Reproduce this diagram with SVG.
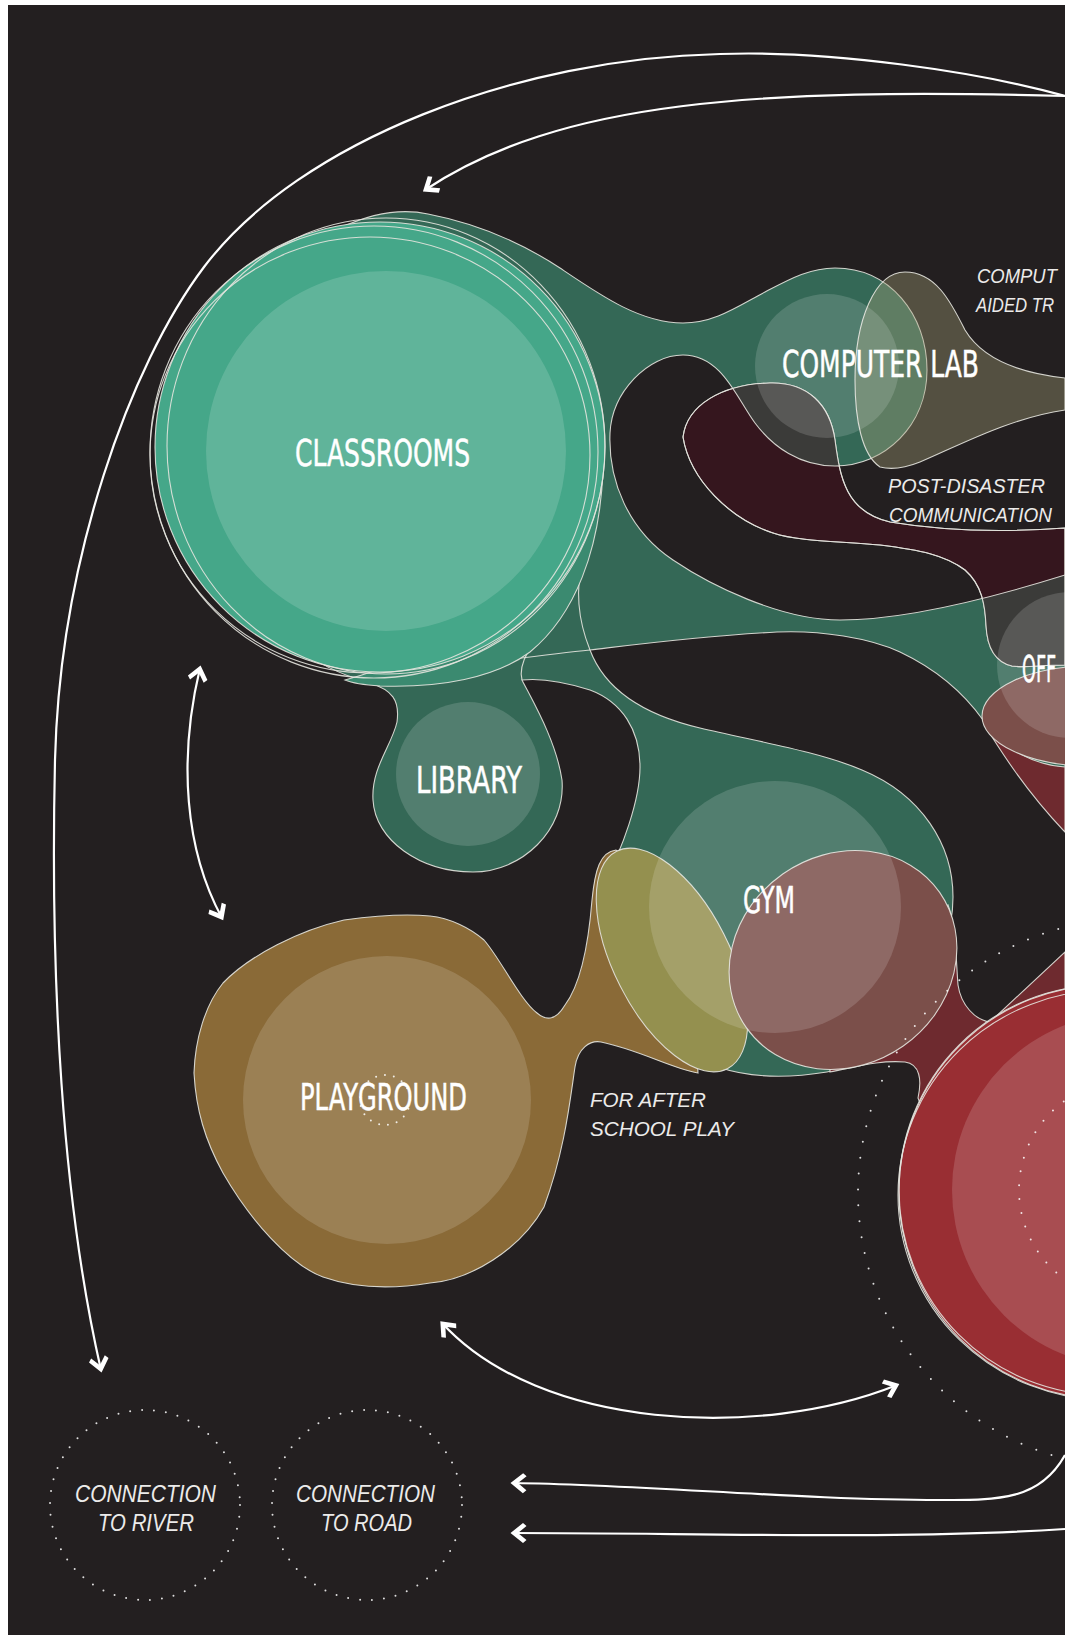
<svg xmlns="http://www.w3.org/2000/svg" width="1065" height="1637" viewBox="0 0 1065 1637">
<defs>
<style>
.ol{stroke:#e4e4de;stroke-width:1.1;stroke-opacity:.9}
.ln{fill:none;stroke:#e4e4de;stroke-width:1.1;stroke-opacity:.9}
.hi{fill:#fff;fill-opacity:.15}
.lab{font-family:"Liberation Sans Narrow","DejaVu Sans Condensed","Liberation Sans",sans-serif;font-size:38px;fill:#fff;stroke:#fff;stroke-width:.5}
.note{font-family:"Liberation Sans","DejaVu Sans",sans-serif;font-style:italic;font-size:21px;fill:#ecebea}
.cn{font-size:23px}
.con{fill:none;stroke:#fff;stroke-width:2.2}
.dot{fill:none;stroke:#fff;stroke-opacity:.85;stroke-width:2;stroke-linecap:round}
</style>
<marker id="ah" viewBox="-15 -11 19 22" markerWidth="19" markerHeight="22" refX="0" refY="0" orient="auto-start-reverse" markerUnits="userSpaceOnUse">
<path d="M2.5,0 L-10,-10 L-13.5,-7 L-5,0 L-13.5,7 L-10,10 Z" fill="#fff"/>
</marker>
<path id="N" d="M340,228 C370,214 400,208 428,214 C480,224 525,245 560,268 C600,295 640,323 683,323 C715,323 738,306 765,292 C790,279 810,268 835,268 C890,268 927,315 927,370 C927,425 885,466 835,466 C800,466 773,447 755,423 C737,399 722,355 683,355 C648,355 612,392 610,433 C608,480 628,530 673,560 C710,585 780,620 840,620 C905,620 985,600 1065,575 L1065,800 C1030,770 1000,740 983,720 C963,692 938,670 900,652 C870,638 820,630 777,632 C700,636 640,644 590,650 C605,690 645,715 700,728 C760,742 820,752 862,770 C922,795 953,845 953,897 C953,965 900,1060 827,1072 C790,1078 750,1078 718,1067 L640,960 L605,880 C622,850 640,800 640,767 C640,730 622,702 590,690 C565,682 540,678 522,680 C532,700 556,740 562,780 C566,830 522,872 473,872 C420,872 375,840 373,800 C371,768 392,745 397,722 C400,700 392,690 370,683 C345,676 310,662 290,640 Z"/>
<path id="M" d="M683,437 C687,405 722,384 770,383 C808,382 830,405 835,440 C840,478 846,512 890,522 C950,532 1010,532 1065,528 L1065,665 C1040,665 1025,668 1012,666 C995,662 987,648 986,625 C985,605 982,585 965,570 C945,555 920,550 880,545 C840,541 800,542 773,533 C730,519 690,480 683,437 Z"/>
<clipPath id="cM"><use href="#M"/></clipPath>
</defs>
<rect width="1065" height="1637" fill="#fff"/>
<rect x="8" y="5" width="1057" height="1630" fill="#231f20"/>

<g id="network">
<use href="#N" fill="#346856" class="ol"/>
<path class="ln" d="M590,650 C540,655 470,665 407,673"/>
<path class="ln" d="M590,650 C578,620 575,590 583,560"/>
<path class="ln" d="M522,680 C518,665 530,640 557,620 C570,605 580,585 583,567"/>
</g>

<g id="classrooms">
<path d="M603,470 C600,550 575,615 530,652 C495,678 440,688 380,686 C365,685 352,683 345,680 C420,660 540,600 580,520 Z" fill="#3b8a70" class="ol"/>
<circle cx="380" cy="447" r="225" fill="#45a789" class="ol"/>
<ellipse cx="374" cy="452" rx="224" ry="226" class="ln"/>
<ellipse cx="386" cy="446" rx="219" ry="228" class="ln"/>
<ellipse cx="370" cy="455" rx="220" ry="218" class="ln"/>
<circle cx="386" cy="451" r="180" class="hi"/>
<text class="lab" x="295" y="466" textLength="175" lengthAdjust="spacingAndGlyphs">CLASSROOMS</text>
</g>

<g id="computer-aided">
<path d="M880,467 C862,455 855,420 855,380 C855,320 875,272 905,272 C935,272 950,300 965,330 C980,355 1010,372 1065,378 L1065,410 C1010,418 960,445 920,462 C905,468 892,470 880,467 Z" fill="#a6a078" fill-opacity=".38" class="ol"/>
<text class="note" transform="translate(977 283) scale(0.85 1)" x="0" y="0" textLength="94" lengthAdjust="spacingAndGlyphs">COMPUT</text>
<text class="note" transform="translate(976 312) scale(0.85 1)" x="0" y="0" textLength="92" lengthAdjust="spacingAndGlyphs">AIDED TR</text>
</g>

<g id="post-disaster">
<use href="#M" fill="#35161e" class="ol"/>
<use href="#N" fill="#3b3b39" class="ol" clip-path="url(#cM)"/>
<use href="#M" fill="none" class="ol"/>
<text class="note" x="888" y="493" textLength="157" lengthAdjust="spacingAndGlyphs">POST-DISASTER</text>
<text class="note" transform="translate(889 522) scale(0.9 1)" x="0" y="0" textLength="181" lengthAdjust="spacingAndGlyphs">COMMUNICATION</text>
</g>

<g id="office">
<path d="M984,724 C1000,750 1025,790 1065,832 L1065,767 C1035,765 1005,750 984,724 Z" fill="#6e2a2f" class="ol"/>
<ellipse cx="1090" cy="716" rx="108" ry="50" fill="#7b4f4a" class="ol"/>
<circle cx="1070" cy="665" r="73" class="hi"/>
<text class="lab" transform="translate(1022 682) scale(0.6 1)" x="0" y="0" textLength="57" lengthAdjust="spacingAndGlyphs">OFF</text>
</g>

<g id="red-node">
<path d="M948,905 C956,925 956,960 958,985 C961,1005 975,1020 990,1022 L1065,952 L1065,1130 L930,1130 L918,1098 C922,1080 920,1064 905,1062 C880,1060 860,1066 830,1072 L830,1000 Z" fill="#6e2a2f" class="ol"/>
<circle cx="1106" cy="1192" r="207" fill="#992e33" class="ol"/>
<ellipse cx="1108" cy="1195" rx="210" ry="205" class="ln"/>
<circle cx="1104" cy="1190" r="205" class="ln"/>
<circle cx="1129" cy="1190" r="177" class="hi"/>
<circle cx="1129" cy="1190" r="110" class="dot" stroke-dasharray="0 14"/>
</g>

<g id="playground">
<path d="M344,920 C380,915 410,914 430,916 C450,918 470,928 484,940 C500,958 520,1000 537,1013 C545,1020 555,1022 565,1005 C580,985 588,950 592,900 C595,870 600,852 616,850 L690,900 L698,1073 C670,1068 640,1050 601,1042 C590,1040 578,1048 575,1067 C570,1100 565,1150 544,1207 C520,1250 470,1280 430,1283 C400,1288 360,1290 323,1277 C290,1265 250,1220 223,1173 C205,1140 196,1110 194,1073 C195,1040 205,1005 223,983 C250,955 300,930 344,920 Z" fill="#8a6a37" class="ol"/>
<ellipse cx="672" cy="960" rx="58" ry="122" transform="rotate(-27 672 960)" fill="#94904f" class="ol"/>
<circle cx="387" cy="1100" r="144" class="hi"/>
<circle cx="385" cy="1100" r="25" class="dot" stroke-dasharray="0 9"/>
<text class="lab" x="300" y="1110" textLength="167" lengthAdjust="spacingAndGlyphs">PLAYGROUND</text>
<text class="note" x="590" y="1107" textLength="116" lengthAdjust="spacingAndGlyphs">FOR AFTER</text>
<text class="note" x="590" y="1136" textLength="144" lengthAdjust="spacingAndGlyphs">SCHOOL PLAY</text>
</g>

<g id="gym">
<ellipse cx="843" cy="960" rx="118" ry="105" transform="rotate(-35 843 960)" fill="#7b4f4a" class="ol"/>
<circle cx="775" cy="907" r="126" class="hi"/>
<text class="lab" x="743" y="913" textLength="52" lengthAdjust="spacingAndGlyphs">GYM</text>
</g>

<g id="computer-lab">
<circle cx="827" cy="366" r="72" class="hi"/>
<text class="lab" x="782" y="377" textLength="197" lengthAdjust="spacingAndGlyphs">COMPUTER LAB</text>
</g>

<g id="library">
<circle cx="468" cy="774" r="72" class="hi"/>
<text class="lab" x="416" y="793" textLength="106" lengthAdjust="spacingAndGlyphs">LIBRARY</text>
</g>

<g id="influence">
<circle cx="1132" cy="1193" r="274" class="dot" stroke-dasharray="0 16"/>
</g>

<g id="river">
<circle cx="145" cy="1505" r="95" class="dot" stroke-dasharray="0 12"/>
<text class="note cn" x="75" y="1502" textLength="141" lengthAdjust="spacingAndGlyphs">CONNECTION</text>
<text class="note cn" x="98" y="1531" textLength="96" lengthAdjust="spacingAndGlyphs">TO RIVER</text>
</g>
<g id="road">
<circle cx="367" cy="1505" r="95" class="dot" stroke-dasharray="0 12"/>
<text class="note cn" x="296" y="1502" textLength="139" lengthAdjust="spacingAndGlyphs">CONNECTION</text>
<text class="note cn" x="321" y="1531" textLength="91" lengthAdjust="spacingAndGlyphs">TO ROAD</text>
</g>

<g id="connectors">
<path class="con" d="M1065,96 C980,72 830,50 720,54 C520,58 300,140 204,267 C130,365 60,560 55,760 C50,980 62,1200 101,1370" marker-end="url(#ah)"/>
<path class="con" d="M1065,96 C760,88 560,100 425,190" marker-end="url(#ah)"/>
<path class="con" d="M200,668 C178,760 185,850 222,918" marker-start="url(#ah)" marker-end="url(#ah)"/>
<path class="con" d="M442,1323 C540,1430 760,1440 897,1385" marker-start="url(#ah)" marker-end="url(#ah)"/>
<path class="con" d="M1065,1455 C1040,1500 1000,1500 940,1500 C800,1500 650,1485 513,1483" marker-end="url(#ah)"/>
<path class="con" d="M1065,1529 C900,1540 700,1533 513,1533" marker-end="url(#ah)"/>
</g>
</svg>
